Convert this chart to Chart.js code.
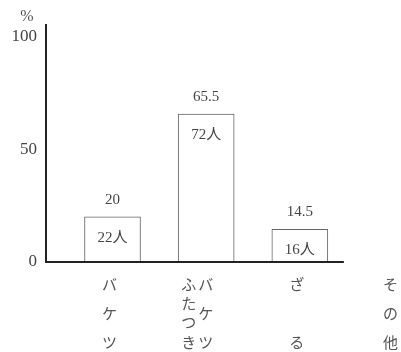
<!DOCTYPE html>
<html lang="ja">
<head>
<meta charset="utf-8">
<title>バケツ</title>
<script src="https://cdn.jsdelivr.net/npm/chart.js@4.4.1/dist/chart.umd.min.js"></script>
<style>
  html, body { margin: 0; padding: 0; background: #fff; }
  #chart { display: block; }
</style>
</head>
<body>
<canvas id="chart" width="401" height="352"></canvas>
<script>
// data
const categories = ['バケツ', 'ふたつきバケツ', 'ざる', 'その他'];
const labelColumns = [['バケツ'], ['ふたつき', 'バケツ'], ['ざ る'], ['その他']];
const percents = [20, 65.5, 14.5, null];
const counts = [22, 72, 16, null];
const yTicks = [0, 50, 100];
const yUnit = '%';

const SERIF = "'Liberation Serif', 'DejaVu Serif', serif";
const CJK = "'Noto Sans CJK JP', sans-serif";

// labels above / inside the bars, category text under the axis, axis line
const annotate = {
  id: 'annotate',
  afterDatasetsDraw(chart) {
    const ctx = chart.ctx;
    const meta = chart.getDatasetMeta(0);
    ctx.save();
    ctx.textAlign = 'center';
    ctx.textBaseline = 'middle';
    meta.data.forEach((bar, i) => {
      if (percents[i] == null) return;
      ctx.fillStyle = '#444';
      ctx.font = `15px ${SERIF}`;
      ctx.fillText(String(percents[i]), bar.x, bar.y - 17);
      ctx.font = `15px ${SERIF}, ${CJK}`;
      ctx.fillText(`${counts[i]}人`, bar.x, bar.y + 21);
    });
    ctx.restore();
  },
  afterDraw(chart) {
    const ctx = chart.ctx;
    const area = chart.chartArea;
    const xs = chart.scales.x;
    ctx.save();

    // x axis stops short of the last category
    ctx.strokeStyle = '#222';
    ctx.lineWidth = 2;
    ctx.beginPath();
    ctx.moveTo(area.left - 1, area.bottom);
    ctx.lineTo(xs.getPixelForValue(3.47), area.bottom);
    ctx.stroke();

    // unit sign over the y axis
    ctx.fillStyle = '#555';
    ctx.font = `16px ${SERIF}`;
    ctx.textAlign = 'center';
    ctx.textBaseline = 'middle';
    ctx.fillText(yUnit, area.left - 19, area.top - 8);

    // vertical category labels, one glyph per line
    ctx.font = `15px ${CJK}`;
    ctx.fillStyle = '#555';
    const firstRow = area.bottom + 22;
    const lastRow = area.bottom + 80;
    labelColumns.forEach((cols, i) => {
      const cx = xs.getPixelForValue(i + 1) - 3;
      const n = cols.length;
      cols.forEach((col, j) => {
        const x = cx + (j - (n - 1) / 2) * 17 - (n > 1 ? 6 : 0);
        const chars = Array.from(col).filter(c => c !== ' ');
        const step = chars.length > 1 ? (lastRow - firstRow) / (chars.length - 1) : 0;
        chars.forEach((c, k) => ctx.fillText(c, x, firstRow + k * step));
      });
    });
    ctx.restore();
  }
};

const chart = new Chart(document.getElementById('chart'), {
  type: 'bar',
  data: {
    labels: categories,
    datasets: [{
      data: percents.map((v, i) => ({ x: i + 1, y: v })),
      backgroundColor: '#fff',
      borderColor: '#666',
      borderWidth: 1,
      barThickness: 56
    }]
  },
  options: {
    responsive: false,
    animation: false,
    layout: { padding: { top: 25, bottom: 90, left: 0, right: 0 } },
    plugins: { legend: { display: false }, tooltip: { enabled: false } },
    scales: {
      x: {
        type: 'linear',
        offset: false,
        min: 0.29,
        max: 4.08,
        display: false
      },
      y: {
        min: 0,
        max: 105,
        afterBuildTicks: s => { s.ticks = yTicks.map(v => ({ value: v })); },
        afterFit: s => { s.width = 46; },
        grid: { display: false, drawTicks: false },
        border: { display: true, color: '#222', width: 2 },
        ticks: { color: '#444', padding: 9, font: { family: SERIF, size: 17 } }
      }
    }
  },
  plugins: [annotate]
});
</script>
</body>
</html>
